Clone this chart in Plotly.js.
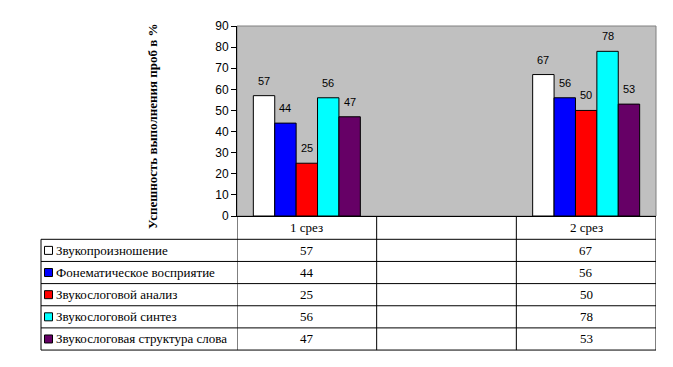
<!DOCTYPE html>
<html><head><meta charset="utf-8">
<script src="https://cdn.plot.ly/plotly-3.0.1.min.js"></script>
<style>html,body{margin:0;padding:0;background:#fff}</style>
</head><body><div id="chart" style="width:673px;height:367px"></div>
<script>
// ---- data ----
const categories = ["1 срез", "", "2 срез"];
const seriesNames = ["Звукопроизношение", "Фонематическое восприятие", "Звукослоговой анализ", "Звукослоговой синтез", "Звукослоговая структура слова"];
const zvukoproiznoshenie = [57, null, 67];
const fonematicheskoe = [44, null, 56];
const zvukoAnaliz = [25, null, 50];
const zvukoSintez = [56, null, 78];
const zvukoStruktura = [47, null, 53];
const yTickVals = [0, 10, 20, 30, 40, 50, 60, 70, 80, 90];
const yTitle = "Успешность выполнения проб в %";

// ---- styles ----
const seriesValues = [zvukoproiznoshenie, fonematicheskoe, zvukoAnaliz, zvukoSintez, zvukoStruktura];
const seriesColors = ["#FFFFFF", "#0000FF", "#FF0000", "#00FFFF", "#660066"];
const W = 673, H = 367;
const M = {l: 237, r: 17, t: 26, b: 151};
const plotH = H - M.t - M.b, plotW = W - M.l - M.r;
const px2x = px => (px - M.l) / plotW;
const py2y = py => (H - M.b - py) / plotH;
const bargap = 0.234;
const nS = seriesValues.length;
const barW = (1 - bargap) / nS;
const xIdx = categories.map((c, i) => i);
const sans = "Arial, 'Liberation Sans', sans-serif";
const serif = "'Times New Roman', 'Liberation Serif', serif";

const traces = seriesValues.map((vals, k) => ({
  type: 'bar', x: xIdx, y: vals, name: seriesNames[k],
  marker: {color: seriesColors[k], line: {color: '#000', width: 1}},
  hoverinfo: 'skip'
}));

const shapes = [];
const annotations = [];
shapes.push({type: 'rect', xref: 'paper', yref: 'paper', x0: 0, x1: 1, y0: 0, y1: 1, line: {color: '#808080', width: 1}, layer: 'below'});

seriesValues.forEach((vals, k) => {
  vals.forEach((v, i) => {
    if (v === null) return;
    annotations.push({xref: 'x', yref: 'y', x: i + (k - (nS - 1) / 2) * barW, y: v,
      text: String(v), showarrow: false, xanchor: 'center', yanchor: 'bottom', yshift: 7,
      font: {family: sans, size: 11, color: '#000'}});
  });
});

const tableTop = 216, headerH = 23.3, rowH = 22.15;
const tableLeftPx = 41;
const rowLines = [tableTop + headerH];
for (let r = 1; r <= nS; r++) rowLines.push(tableTop + headerH + r * rowH);
const tableBottom = rowLines[rowLines.length - 1];
const blk = {color: '#000', width: 1};
rowLines.forEach(py => shapes.push({type: 'line', xref: 'paper', yref: 'paper', x0: px2x(tableLeftPx), x1: 1, y0: py2y(py), y1: py2y(py), line: blk}));
for (let b = 0; b <= categories.length; b++) {
  shapes.push({type: 'line', xref: 'x', yref: 'paper', x0: b - 0.5, x1: b - 0.5, y0: py2y(tableTop), y1: py2y(tableBottom), line: blk});
}
shapes.push({type: 'line', xref: 'paper', yref: 'paper', x0: px2x(tableLeftPx), x1: px2x(tableLeftPx), y0: py2y(rowLines[0]), y1: py2y(tableBottom), line: blk});

const cellFont = {family: serif, size: 13, color: '#000'};
categories.forEach((c, i) => {
  annotations.push({xref: 'x', yref: 'paper', x: i, y: py2y(tableTop + headerH / 2), text: c, showarrow: false,
    xanchor: 'center', yanchor: 'middle', font: cellFont});
});
seriesValues.forEach((vals, k) => {
  const cy = rowLines[k] + rowH / 2;
  annotations.push({xref: 'paper', yref: 'paper', x: px2x(54), y: py2y(cy), xanchor: 'left', yanchor: 'middle',
    text: seriesNames[k], showarrow: false, font: cellFont});
  shapes.push({type: 'rect', xref: 'paper', yref: 'paper', x0: px2x(44.5), x1: px2x(52.5), y0: py2y(cy - 4), y1: py2y(cy + 4),
    fillcolor: seriesColors[k], line: blk});
  vals.forEach((v, i) => {
    annotations.push({xref: 'x', yref: 'paper', x: i, y: py2y(cy), text: v === null ? '' : String(v), showarrow: false,
      xanchor: 'center', yanchor: 'middle', font: cellFont});
  });
});

annotations.push({xref: 'paper', yref: 'paper', x: px2x(152), y: py2y(127), xanchor: 'center', yanchor: 'middle',
  text: '<b>' + yTitle + '</b>', textangle: -90, showarrow: false, font: {family: serif, size: 13, color: '#000'}});

const layout = {
  width: W, height: H, margin: M,
  paper_bgcolor: '#FFFFFF', plot_bgcolor: '#C0C0C0',
  showlegend: false, barmode: 'group', bargap: bargap, bargroupgap: 0,
  xaxis: {range: [-0.5, categories.length - 0.5], showticklabels: false, showgrid: false, zeroline: false,
    showline: true, linecolor: '#000', linewidth: 1, ticks: '', fixedrange: true},
  yaxis: {range: [0, 90], tickvals: yTickVals, ticks: 'outside', ticklen: 5, tickcolor: '#000', tickwidth: 1,
    showline: true, linecolor: '#000', linewidth: 1, showgrid: false, zeroline: false,
    tickfont: {family: sans, size: 12, color: '#000'}, fixedrange: true},
  shapes: shapes, annotations: annotations
};
Plotly.newPlot('chart', traces, layout, {staticPlot: true, displayModeBar: false});
</script></body></html>
